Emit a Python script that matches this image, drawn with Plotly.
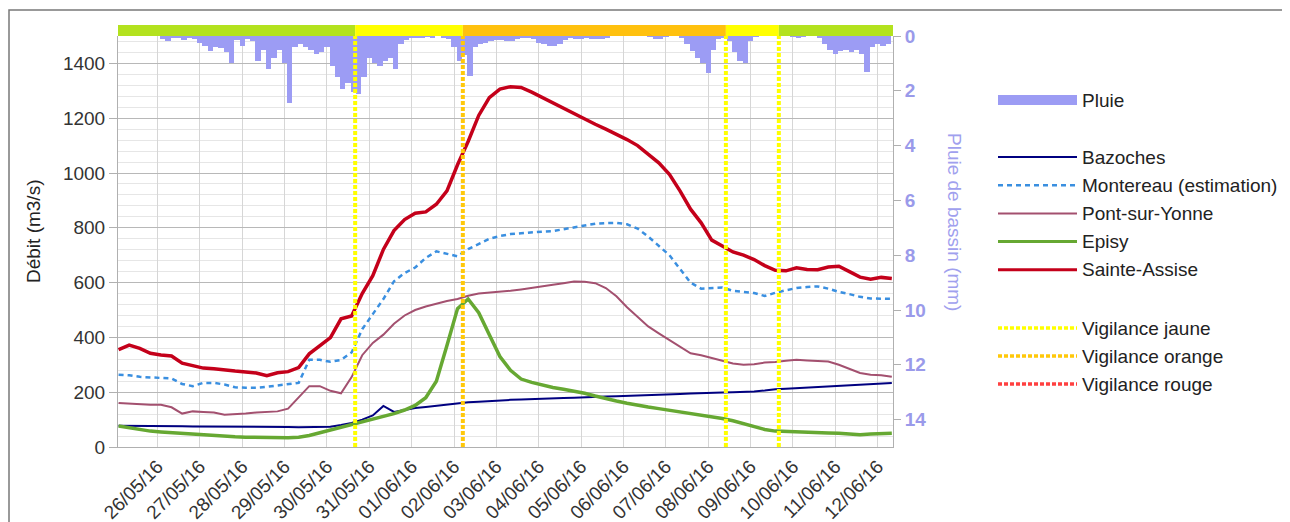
import pandas as pd
import plotly.graph_objects as go

# ---------------- data ----------------
# Rain (mm) per 3-hour step starting 25/05/2016 00:00
rain_start = "2016-05-25 00:00"
rain_mm = [0, 0, 0, 0, 0, 0, 0, 0, 0, 0.1,
           0.2, 0.05, 0.05, 0.15, 0.05, 0.1, 0.25, 0.35, 0.55, 0.4,
           0.45, 0.6, 1.0, 0.15, 0.35, 0.1, 0.2, 0.9, 0.5, 1.2,
           0.8, 0.5, 1.0, 2.45, 0.4, 0.3, 0.4, 0.5, 0.65, 0.6,
           0.4, 1.1, 1.5, 1.95, 1.7, 2.05, 2.1, 1.5, 0.8, 1.0,
           1.1, 0.9, 0.8, 1.2, 0.3, 0.15, 0.05, 0.05, 0.05, 0.03,
           0.05, 0, 0.05, 0.1, 0.4, 0.9, 0.7, 1.45, 0.4, 0.3,
           0.25, 0.2, 0.15, 0.15, 0.2, 0.2, 0.1, 0.05, 0.05, 0.1,
           0.25, 0.3, 0.35, 0.35, 0.3, 0.15, 0.05, 0.1, 0.1, 0.05,
           0.1, 0.1, 0.1, 0.05, 0, 0, 0, 0, 0, 0,
           0, 0.02, 0.1, 0.1, 0.02, 0, 0, 0.05, 0.3, 0.55,
           0.8, 1.0, 1.35, 0.5, 0.1, 0.05, 0.2, 0.6, 0.9, 1.0,
           0.2, 0.02, 0, 0, 0, 0, 0, 0, 0.02, 0.05,
           0.02, 0, 0, 0.05, 0.3, 0.5, 0.65, 0.55, 0.5, 0.6,
           0.5, 0.65, 1.3, 0.4, 0.3, 0.35, 0.3]

# Flows (m3/s) per 6-hour step starting 25/05/2016 02:00
flow_start = "2016-05-25 02:00"
bazoches = [78, 78, 77, 77, 76, 76, 76, 75, 75, 75,
            74, 74, 73, 73, 73, 73, 73, 72, 72, 72,
            74, 80, 88, 100, 115, 150, 128, 135, 142, 146,
            150, 155, 160, 163, 165, 168, 170, 172, 173, 175,
            176, 178, 179, 180, 182, 183, 184, 185, 186, 188,
            189, 190, 191, 193, 195, 197, 198, 199, 200, 201,
            203, 206, 211, 213, 215, 216, 218, 220, 223, 226,
            228, 230, 232, 234]
montereau = [264, 262, 256, 254, 253, 250, 230, 222, 234, 234,
             228, 218, 216, 216, 220, 225, 230, 234, 318, 318,
             311, 318, 345, 430, 485, 540, 605, 635, 655, 690,
             714, 705, 696, 722, 742, 760, 770, 777, 780, 784,
             786, 788, 795, 803, 810, 815, 817, 818, 813, 797,
             768, 735, 700, 650, 600, 578, 580, 582, 570, 566,
             562, 551, 563, 572, 580, 584, 586, 578, 566, 558,
             548, 542, 542, 541]
pont = [161, 158, 155, 154, 154, 145, 122, 130, 128, 126,
        118, 119, 122, 126, 128, 130, 140, 180, 222, 222,
        205, 196, 255, 335, 380, 410, 450, 480, 500, 513,
        524, 533, 540, 552, 560, 563, 566, 570, 575, 580,
        586, 592, 598, 604, 603, 598, 580, 550, 510, 475,
        440, 415, 390, 365, 342, 335, 325, 315, 305, 300,
        302, 308, 310, 315, 318, 316, 313, 312, 300, 285,
        270, 264, 262, 256]
episy = [77, 70, 63, 58, 55, 52, 49, 46, 43, 40,
         38, 37, 36, 35, 34, 33, 34, 36, 42, 52,
         62, 70, 80, 90, 100, 112, 122, 135, 152, 180,
         240, 370, 505, 540, 490, 410, 330, 280, 248, 236,
         225, 217, 211, 205, 196, 186, 176, 168, 160, 152,
         146, 140, 134, 128, 122, 118, 112, 104, 96, 86,
         76, 64, 58, 56, 55, 53, 52, 51, 50, 48,
         45, 47, 49, 50]
sainte_assise = [355, 372, 360, 342, 336, 332, 306, 298, 288, 286,
                 280, 277, 274, 270, 260, 271, 275, 290, 340, 368,
                 399, 468, 478, 560, 625, 721, 790, 830, 853, 858,
                 886, 935, 1030, 1115, 1210, 1275, 1306, 1315, 1312, 1295,
                 1275, 1255, 1235, 1216, 1197, 1178, 1160, 1142, 1122, 1100,
                 1070, 1037, 995, 935, 868, 818, 755, 735, 712, 700,
                 684, 662, 645, 643, 654, 648, 647, 657, 660, 640,
                 620, 612, 619, 615]

# Vigilance changes
vig_times = ["2016-05-30 16:00", "2016-06-02 05:00", "2016-06-08 10:00", "2016-06-09 16:00"]
vig_levels = ["jaune", "orange", "jaune", "verte"]
first_level = "verte"
x_range = ["2016-05-25 01:40", "2016-06-12 08:40"]

series_names = ["Bazoches", "Montereau (estimation)", "Pont-sur-Yonne", "Episy", "Sainte-Assise"]
vig_names = ["Vigilance jaune", "Vigilance orange", "Vigilance rouge"]

# ---------------- styles ----------------
FONT = "Liberation Sans, Arial, sans-serif"
RAIN_COL = "#9c9cf4"
styles = {
    "Bazoches": dict(color="#000080", width=2),
    "Montereau (estimation)": dict(color="#3a8fe0", width=2.5, dash="5px,4px"),
    "Pont-sur-Yonne": dict(color="#a3506f", width=2),
    "Episy": dict(color="#66a832", width=3.5),
    "Sainte-Assise": dict(color="#c4001a", width=3.5),
}
band_cols = {"verte": "#b3e21e", "jaune": "#ffff00", "orange": "#ffc10e", "rouge": "#ff2020"}
vline_cols = {"jaune": "#ffff00", "orange": "#ffc80a", "rouge": "#ff4040"}

rain_t = pd.date_range(rain_start, periods=len(rain_mm), freq="3h")
flow_t = pd.date_range(flow_start, periods=len(bazoches), freq="6h")
flows = [bazoches, montereau, pont, episy, sainte_assise]

fig = go.Figure()
fig.add_trace(go.Bar(x=rain_t, y=rain_mm, yaxis="y2", name="Pluie",
                     marker=dict(color=RAIN_COL, line=dict(width=0)),
                     width=3 * 3600 * 1000, showlegend=False))
for name, vals in zip(series_names, flows):
    fig.add_trace(go.Scatter(x=flow_t, y=vals, mode="lines", name=name,
                             line=styles[name], showlegend=False))

shapes = []
# top vigilance band
bounds = [x_range[0]] + vig_times + [x_range[1]]
levels = [first_level] + vig_levels
for i, lev in enumerate(levels):
    shapes.append(dict(type="rect", xref="x", yref="paper", x0=bounds[i], x1=bounds[i + 1],
                       y0=1.0, y1=1.027, fillcolor=band_cols[lev], line=dict(width=0), layer="above"))
# vertical vigilance lines (colour of the level entered, or left for a return to green)
for i, t in enumerate(vig_times):
    lev = vig_levels[i]
    key = lev if lev in vline_cols else levels[i]
    shapes.append(dict(type="line", xref="x", yref="paper", x0=t, x1=t, y0=0, y1=1,
                       line=dict(color=vline_cols[key], width=4, dash="4px,2px"), layer="above"))

# page offset: body margin of 8px in the screenshot
OFF = 8
PL, PT, PW, PH = 118, 36, 775, 411   # plot area in screenshot pixels


def px_x(px):
    return (px - PL) / PW


def px_y(py):
    return (PT + PH - py) / PH


# chart frame
shapes.append(dict(type="rect", xref="paper", yref="paper", x0=px_x(9), x1=px_x(1284),
                   y0=px_y(560), y1=px_y(10),
                   line=dict(color="#787878", width=1.5), fillcolor="rgba(0,0,0,0)", layer="below"))

# manual legend
annotations = []
lx0, lx1, tx = px_x(998), px_x(1077), px_x(1080)
shapes.append(dict(type="rect", xref="paper", yref="paper", x0=lx0, x1=lx1,
                   y0=px_y(105), y1=px_y(95), fillcolor=RAIN_COL, line=dict(width=0)))
annotations.append(dict(xref="paper", yref="paper", x=tx, y=px_y(100), text="Pluie", showarrow=False,
                        xanchor="left", yanchor="middle", font=dict(size=19, color="#222", family=FONT)))
for i, name in enumerate(series_names):
    yy = px_y(157 + i * 28.2)
    st = styles[name]
    shapes.append(dict(type="line", xref="paper", yref="paper", x0=lx0, x1=lx1, y0=yy, y1=yy,
                       line=dict(color=st["color"], width=min(st["width"], 3), dash=st.get("dash", "solid"))))
    annotations.append(dict(xref="paper", yref="paper", x=tx, y=yy, text=name, showarrow=False,
                            xanchor="left", yanchor="middle", font=dict(size=19, color="#222", family=FONT)))
for i, (name, key) in enumerate(zip(vig_names, ["jaune", "orange", "rouge"])):
    yy = px_y(328 + i * 28)
    shapes.append(dict(type="line", xref="paper", yref="paper", x0=lx0, x1=lx1, y0=yy, y1=yy,
                       line=dict(color=vline_cols[key], width=3.5, dash="4px,2px")))
    annotations.append(dict(xref="paper", yref="paper", x=tx, y=yy, text=name, showarrow=False,
                            xanchor="left", yanchor="middle", font=dict(size=19, color="#222", family=FONT)))

# axis titles
annotations.append(dict(xref="paper", yref="paper", x=px_x(33), y=px_y(232), text="Débit (m3/s)",
                        xanchor="center", yanchor="middle",
                        showarrow=False, textangle=-90, font=dict(size=19, color="#222", family=FONT)))
annotations.append(dict(xref="paper", yref="paper", x=px_x(955), y=px_y(222), text="Pluie de bassin (mm)",
                        xanchor="center", yanchor="middle",
                        showarrow=False, textangle=90, font=dict(size=19, color="#a0a0ee", family=FONT)))

W, H = 1290 - OFF, 522 - OFF
fig.update_layout(
    width=W, height=H,
    margin=dict(l=PL - OFF, r=W - (PL - OFF) - PW, t=PT - OFF, b=H - (PT - OFF) - PH),
    paper_bgcolor="white", plot_bgcolor="white",
    font=dict(family=FONT, size=19, color="#333"),
    showlegend=False, bargap=0,
    shapes=shapes, annotations=annotations,
    xaxis=dict(type="date", range=x_range, dtick=86400000, tick0="2016-05-26",
               tickformat="%d/%m/%y", tickangle=-45, showgrid=True, gridcolor="#d6d6d6", gridwidth=1,
               showline=True, linecolor="#b0b0b0", ticks="", tickfont=dict(size=19, color="#333"),
               zeroline=False, automargin=False),
    yaxis=dict(range=[0, 1500], dtick=200, showgrid=True, gridcolor="#b8b8b8", gridwidth=1,
               minor=dict(dtick=40, showgrid=True, gridcolor="#e6e6e6"),
               showline=True, linecolor="#b0b0b0", ticks="outside", ticklen=8, tickcolor="#b0b0b0",
               tickfont=dict(size=19, color="#333"), zeroline=False, automargin=False),
    yaxis2=dict(range=[15, 0], dtick=2, overlaying="y", side="right", showgrid=False,
                showline=True, linecolor="#b0b0b0", ticks="outside", ticklen=7, tickcolor="#b0b0b0",
                tickfont=dict(size=19, color="#9a9aea", weight="bold"), zeroline=False,
                automargin=False),
)

fig.write_html("out.html")
